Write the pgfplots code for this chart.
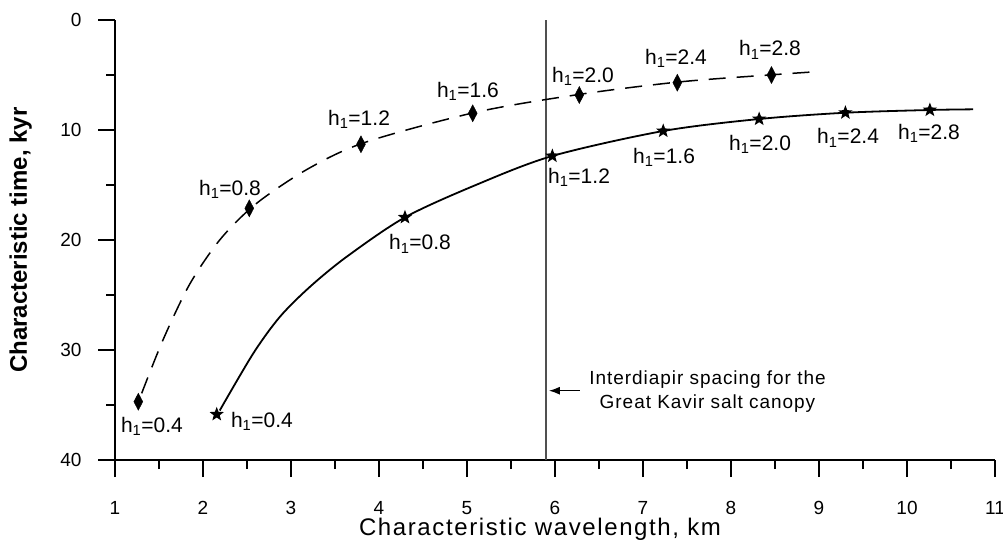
\documentclass[border=0pt]{standalone}
\usepackage{fontspec}
\setmainfont{Liberation Sans}
\usepackage{pgfplots}
\pgfplotsset{compat=1.18}
\usetikzlibrary{arrows.meta}
\definecolor{vgray}{RGB}{80,80,80}
\pgfdeclareplotmark{fstar}{%
 \pgfpathmoveto{\pgfpointpolar{90}{\pgfplotmarksize}}%
 \pgfpathlineto{\pgfpointpolar{126}{0.42\pgfplotmarksize}}%
 \pgfpathlineto{\pgfpointpolar{162}{\pgfplotmarksize}}%
 \pgfpathlineto{\pgfpointpolar{198}{0.42\pgfplotmarksize}}%
 \pgfpathlineto{\pgfpointpolar{234}{\pgfplotmarksize}}%
 \pgfpathlineto{\pgfpointpolar{270}{0.42\pgfplotmarksize}}%
 \pgfpathlineto{\pgfpointpolar{306}{\pgfplotmarksize}}%
 \pgfpathlineto{\pgfpointpolar{342}{0.42\pgfplotmarksize}}%
 \pgfpathlineto{\pgfpointpolar{18}{\pgfplotmarksize}}%
 \pgfpathlineto{\pgfpointpolar{54}{0.42\pgfplotmarksize}}%
 \pgfpathclose\pgfusepathqfill}
\newcommand{\hl}[1]{h\textsubscript{1}=#1}
\tikzset{lab/.style={anchor=base, font=\fontsize{21}{21}\selectfont, inner sep=0pt}}
\begin{document}
\begin{tikzpicture}
\begin{axis}[
 scale only axis, width=880pt, height=440pt,
 xmin=1, xmax=11, ymin=0, ymax=40, y dir=reverse,
 axis x line*=bottom, axis y line*=left,
 axis line style={line width=2pt},
 xtick={1,2,...,11}, ytick={0,10,20,30,40},
 minor x tick num=1, minor y tick num=1,
 xtick align=inside, ytick align=outside,
 major tick length=17pt, minor tick length=9pt,
 tick style={black, line width=1.5pt},
 every major x tick/.append style={yshift=-17pt},
 every minor x tick/.append style={yshift=-9pt},
 tick label style={font=\fontsize{19}{19}\selectfont},
 xticklabel style={yshift=-38pt},
 yticklabel style={xshift=-13pt},
 /pgf/number format/assume math mode=true,
 clip=false,
 xlabel={Characteristic wavelength, km},
 xlabel style={at={(axis description cs:0.483,-0.1727)}, anchor=base, font=\fontsize{24}{24}\selectfont\addfontfeature{LetterSpace=6.7}},
 ylabel={Characteristic time, kyr},
 ylabel style={at={(axis description cs:-0.1,0.5)}, anchor=base, font=\fontsize{24}{24}\selectfont\bfseries},
]
% vertical reference line
\addplot[vgray, line width=1.5pt] coordinates {(5.9,0) (5.9,40)};
% dashed curve
\addplot[black, line width=1.5pt, dash pattern=on 17pt off 11pt, smooth] coordinates {
 (1.303,33.94) (1.55,29.0) (1.85,24.0) (2.2,19.9) (2.61,16.66) (3.2,13.5) (3.85,11.1)
 (5.12,8.35) (6.33,6.7) (7.45,5.6) (8.52,4.95) (8.97,4.7)};
\addplot[only marks, mark=diamond*, mark size=8.5pt, mark options={xscale=0.7, fill=black, draw=black}] coordinates {
 (1.265,34.7) (2.526,17.12) (3.795,11.3) (5.065,8.48) (6.276,6.82) (7.39,5.70) (8.46,5.0)};
% solid curve
\addplot[black, line width=1.8pt, smooth] coordinates {
 (2.19,35.5) (2.572,30.3) (2.875,26.97) (3.216,24.25) (3.633,21.52) (4.295,17.94)
 (5.1,15.0) (5.97,12.36) (7.23,10.09) (8.32,9.0) (9.30,8.43) (10.26,8.18) (10.75,8.12)};
\addplot[only marks, mark=fstar, mark size=7.5pt, mark options={fill=black, draw=black}] coordinates {
 (2.156,35.85) (4.295,17.94) (5.97,12.36) (7.23,10.09) (8.32,9.0) (9.30,8.43) (10.26,8.18)};
% labels (diamonds)
\node[lab] at (axis cs:1.420,37.5) {\hl{0.4}};
\node[lab] at (axis cs:2.307,15.95) {\hl{0.8}};
\node[lab] at (axis cs:3.773,9.59) {\hl{1.2}};
\node[lab] at (axis cs:5.011,7.05) {\hl{1.6}};
\node[lab] at (axis cs:6.318,5.68) {\hl{2.0}};
\node[lab] at (axis cs:7.375,4.05) {\hl{2.4}};
\node[lab] at (axis cs:8.443,3.27) {\hl{2.8}};
% labels (stars)
\node[lab] at (axis cs:2.670,37.0) {\hl{0.4}};
\node[lab] at (axis cs:4.466,20.9) {\hl{0.8}};
\node[lab] at (axis cs:6.273,14.82) {\hl{1.2}};
\node[lab] at (axis cs:7.239,13.03) {\hl{1.6}};
\node[lab] at (axis cs:8.330,11.82) {\hl{2.0}};
\node[lab] at (axis cs:9.330,11.27) {\hl{2.4}};
\node[lab] at (axis cs:10.25,10.85) {\hl{2.8}};
% annotation
\draw[-{Latex[length=11pt,width=8pt]}, line width=1.5pt] (axis cs:6.284,33.7) -- (axis cs:5.93,33.7);
\node[anchor=base, font=\fontsize{19}{19}\selectfont\addfontfeature{LetterSpace=5}, inner sep=0pt] at (axis cs:7.733,33.18) {Interdiapir spacing for the};
\node[anchor=base, font=\fontsize{19}{19}\selectfont\addfontfeature{LetterSpace=5}, inner sep=0pt] at (axis cs:7.733,35.36) {Great Kavir salt canopy};
\end{axis}
\pgfresetboundingbox
\path[use as bounding box] (-115pt,-81pt) rectangle (888pt,460pt);
\end{tikzpicture}
\end{document}
